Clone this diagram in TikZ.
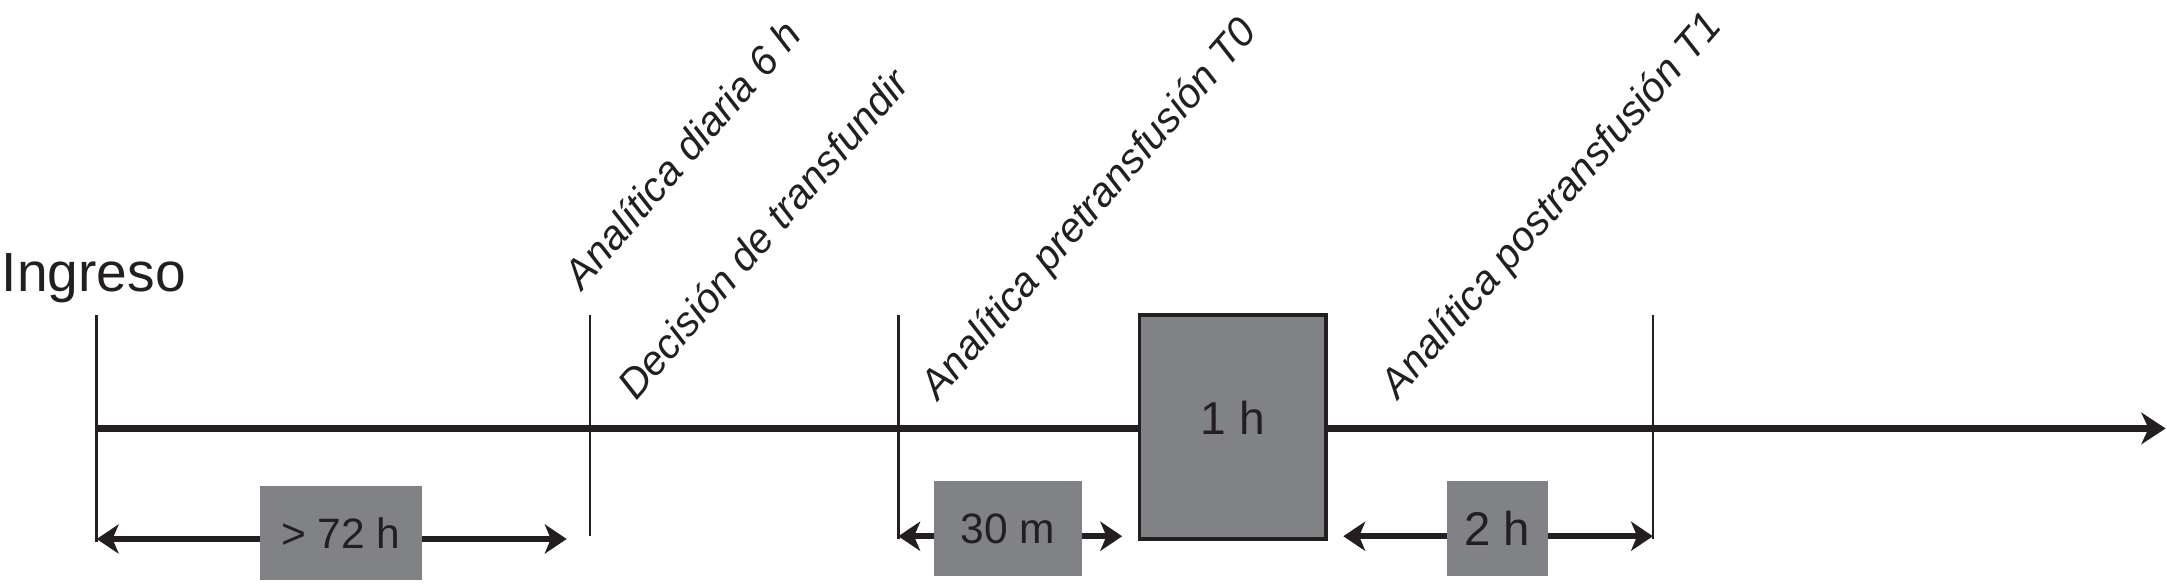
\documentclass[tikz,border=0pt]{standalone}
\usepackage{fontspec}
\setmainfont{Liberation Sans}
\usetikzlibrary{arrows.meta}
\definecolor{ink}{RGB}{35,31,32}
\definecolor{boxgray}{RGB}{128,130,133}
\begin{document}
\begin{tikzpicture}[x=0.02cm,y=-0.02cm,
  tickline/.style={draw=ink, line width=1.1pt},
  timeline/.style={draw=ink, line width=2.8pt, -{Stealth[length=10pt,width=13pt,inset=3pt]}},
  span/.style={draw=ink, line width=2.6pt, {Stealth[length=9pt,width=12pt,inset=2.5pt]}-{Stealth[length=9pt,width=12pt,inset=2.5pt]}},
  graybox/.style={fill=boxgray, draw=none, inner sep=0pt, text=ink, font=\fontsize{17.5}{20}\selectfont},
  bigbox/.style={fill=boxgray, draw=ink, line width=1.6pt, inner sep=0pt, text=ink, font=\fontsize{19}{22}\selectfont},
  lbl/.style={rotate=49, anchor=base west, inner sep=0pt, text=ink, font=\itshape\fontsize{16.9}{20}\selectfont}
]
\useasboundingbox (0,0) rectangle (1568,424);

% ticks
\coordinate (t1a) at (70,228);  \coordinate (t1b) at (70,392);
\coordinate (t2a) at (427,228); \coordinate (t2b) at (427,388);
\coordinate (t3a) at (650,228); \coordinate (t3b) at (650,390);
\coordinate (t4a) at (1196,228); \coordinate (t4b) at (1196,390);
\draw[tickline] (t1a) -- (t1b);
\draw[tickline] (t2a) -- (t2b);
\draw[tickline] (t3a) -- (t3b);
\draw[tickline] (t4a) -- (t4b);

% timeline
\coordinate (tl0) at (70,310);
\coordinate (tl1) at (1567,310);
\draw[timeline] (tl0) -- (tl1);

% spans
\coordinate (s1a) at (70,390);  \coordinate (s1b) at (410,390);
\coordinate (s2a) at (650,388); \coordinate (s2b) at (812,388);
\coordinate (s3a) at (972,388); \coordinate (s3b) at (1196,388);
\draw[span] (s1a) -- (s1b);
\draw[span] (s2a) -- (s2b);
\draw[span] (s3a) -- (s3b);

% boxes
\node[graybox, minimum width=2.34cm, minimum height=1.36cm] (b72) at (246.5,386) {> 72 h};
\node[graybox, minimum width=2.14cm, minimum height=1.38cm] (b30) at (729.5,382.5) {30 m};
\node[graybox, minimum width=1.46cm, minimum height=1.38cm, font=\fontsize{19.5}{22}\selectfont] (b2) at (1083.5,382.5) {2 h};
\node[bigbox, minimum width=2.7cm, minimum height=3.24cm] (b1) at (892,309) {\raisebox{8pt}{1 h}};

% labels
\node[anchor=base west, inner sep=0pt, text=ink, font=\fontsize{22.7}{26}\selectfont] (ingreso) at (1,211) {Ingreso};
\node[lbl] (l1) at (421,211) {Analítica diaria 6 h};
\node[lbl] (l2) at (460,291) {Decisión de transfundir};
\node[lbl] (l3) at (679,291) {Analítica pretransfusión T0};
\node[lbl] (l4) at (1012,290) {Analítica postransfusión T1};
\end{tikzpicture}
\end{document}
